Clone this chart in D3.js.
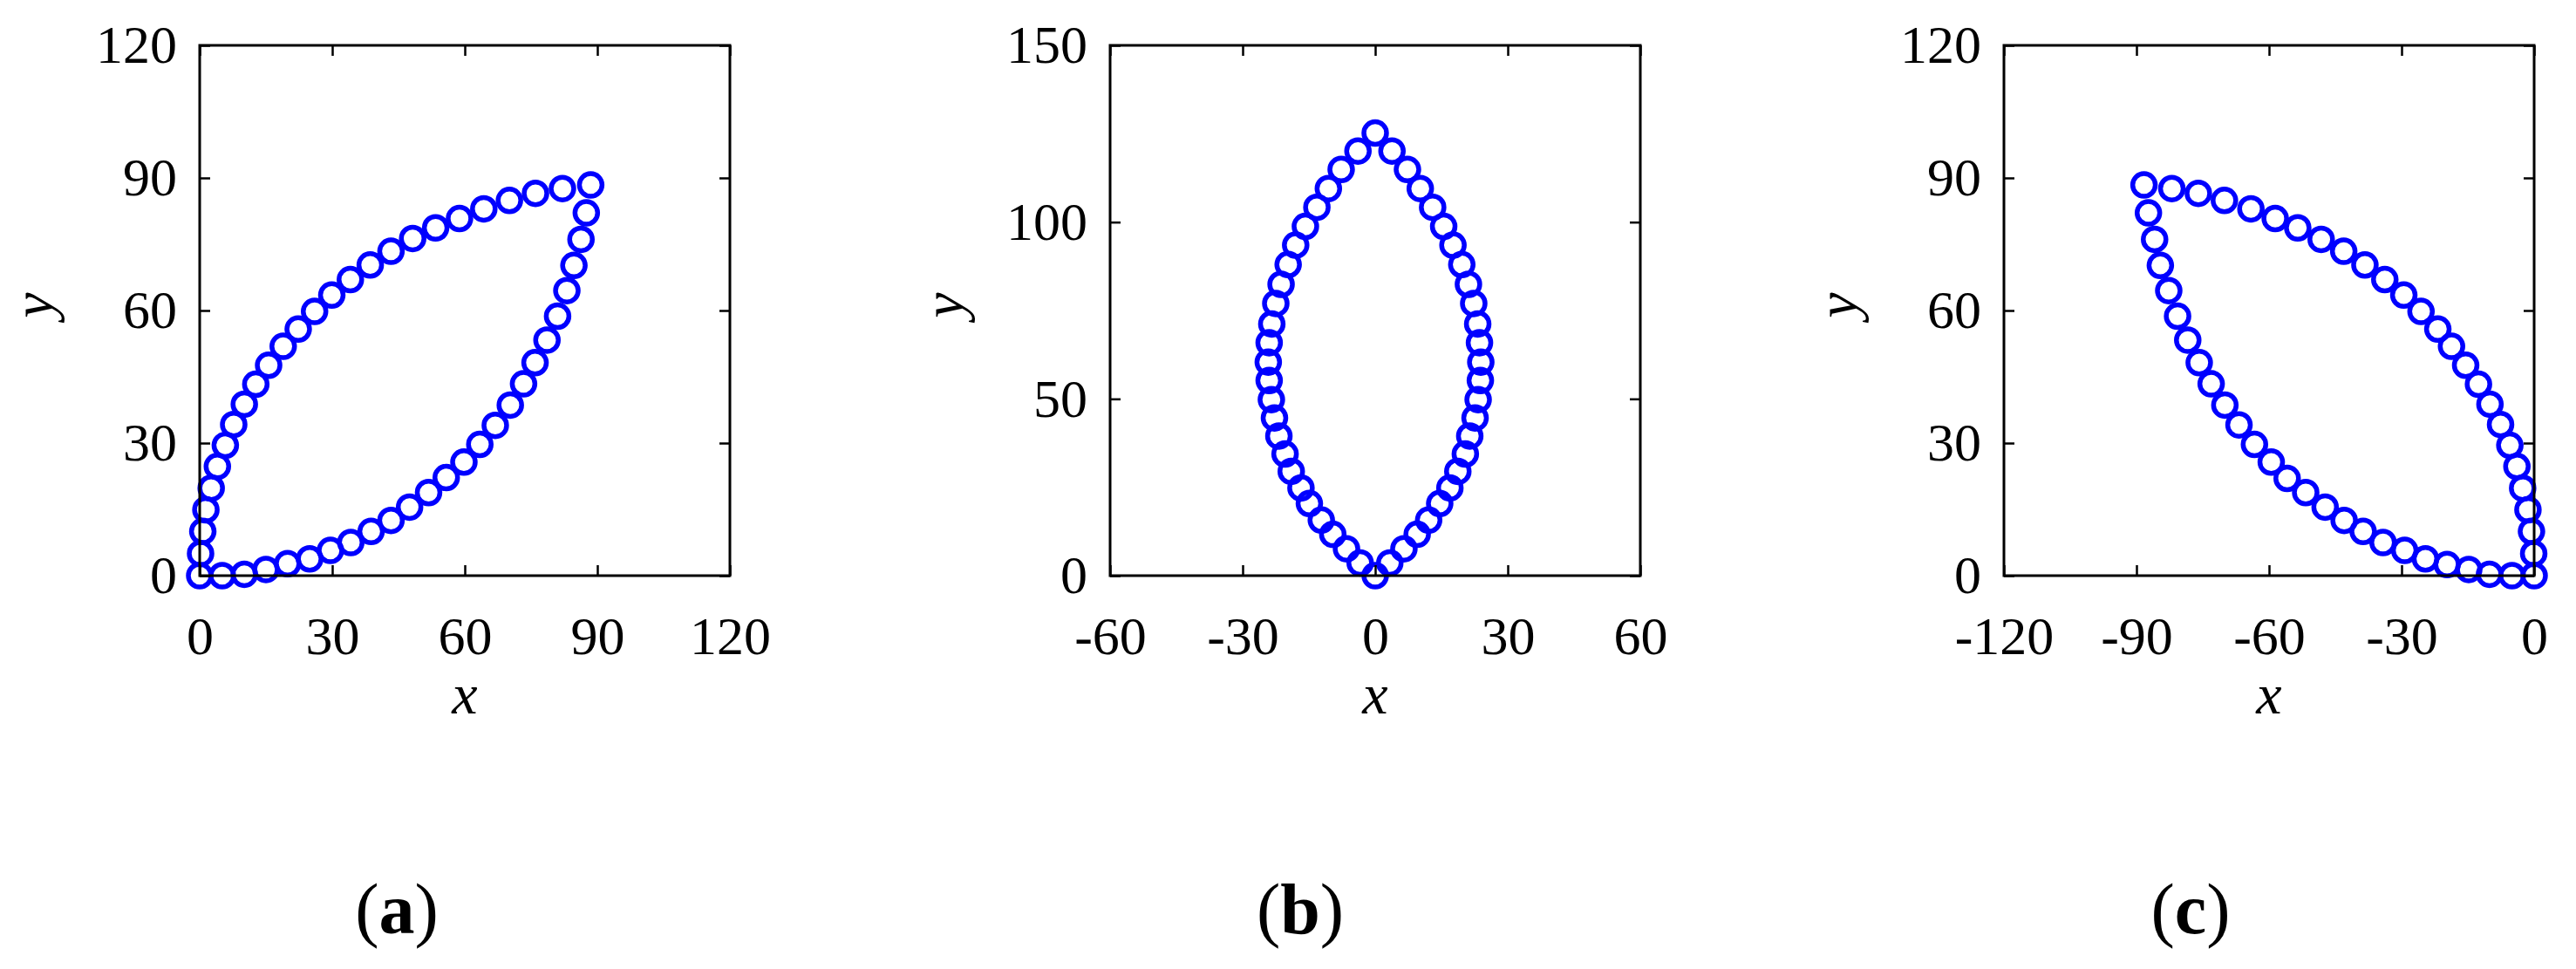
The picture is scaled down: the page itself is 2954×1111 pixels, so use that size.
<!DOCTYPE html>
<html>
<head>
<meta charset="utf-8">
<script src="https://cdn.jsdelivr.net/npm/d3@7/dist/d3.min.js"></script>
<style>
  body { margin: 0; background: #fff; }
</style>
</head>
<body>
<svg id="fig" width="2954" height="1111"></svg>
<script>
// ---- data ----
// panel (a)
var aUpper = [[0,0],[0.2,5.0],[0.7,10.0],[1.4,14.9],[2.6,19.8],[4.0,24.7],[5.8,29.5],[7.7,34.2],
  [10.1,38.8],[12.7,43.3],[15.6,47.6],[18.9,51.9],[22.3,55.8],[26.0,59.8],[29.9,63.5],[34.1,67.0],
  [38.6,70.3],[43.3,73.4],[48.2,76.3],[53.4,78.7],[58.8,80.8],[64.3,83.0],[70.1,84.9],[76.0,86.5],
  [82.1,87.6],[88.5,88.4]];
var aLower = [[5.1,0],[10.1,0.3],[15.0,1.4],[19.9,2.7],[24.9,3.8],[29.6,5.7],[34.2,7.5],[38.8,10.0],
  [43.3,12.5],[47.5,15.5],[51.8,18.8],[55.8,22.2],[59.8,25.7],[63.4,29.7],[66.9,34.0],[70.3,38.6],
  [73.3,43.4],[75.9,48.2],[78.6,53.3],[81.0,58.7],[83.1,64.5],[84.7,70.2],[86.3,76.1],[87.5,82.1]];
var aXTicks = [0,30,60,90,120];
var aYTicks = [0,30,60,90,120];

// panel (b)
var bRight = [[0,0],[3.3,3.6],[6.5,7.6],[9.5,11.7],[12.1,15.7],[14.6,20.4],[16.9,24.8],[18.7,29.5],
  [20.4,34.4],[21.4,39.5],[22.6,44.6],[23.3,49.8],[23.8,55.2],[23.9,60.4],[23.6,65.9],[23.2,71.2],
  [22.3,77.0],[21.1,82.4],[19.6,88.0],[17.6,93.5],[15.5,98.8],[13.0,104.2],[10.2,109.5],[7.3,114.9],
  [3.8,120.1],[0,125.2]];
var bLeft = [[-3.4,3.6],[-6.5,7.6],[-9.6,11.7],[-12.2,15.7],[-14.9,20.4],[-16.8,24.8],[-19.0,29.5],
  [-20.4,34.4],[-21.8,39.5],[-22.8,44.6],[-23.5,49.8],[-24.0,55.2],[-24.2,60.4],[-24.0,65.9],
  [-23.4,71.2],[-22.5,77.0],[-21.3,82.4],[-19.7,88.0],[-18.0,93.5],[-15.8,98.8],[-13.2,104.2],
  [-10.6,109.5],[-7.7,114.9],[-3.9,120.1]];
var bXTicks = [-60,-30,0,30,60];
var bYTicks = [0,50,100,150];

// panel (c)
var cUpper = [[0,0],[-0.1,5.0],[-0.6,10.0],[-1.4,14.9],[-2.6,19.8],[-3.9,24.7],[-5.5,29.5],[-7.6,34.2],
  [-10.0,38.8],[-12.6,43.3],[-15.5,47.6],[-18.7,51.9],[-21.8,55.8],[-25.6,59.8],[-29.5,63.5],[-33.8,67.0],
  [-38.3,70.3],[-43.1,73.4],[-48.2,76.1],[-53.5,78.7],[-58.6,80.8],[-64.1,83.0],[-70.1,84.9],[-76.0,86.5],
  [-82.0,87.6],[-88.3,88.4]];
var cLower = [[-5.0,0],[-10.1,0.3],[-14.8,1.4],[-19.7,2.5],[-24.6,3.8],[-29.3,5.7],[-34.2,7.5],[-38.7,10.0],
  [-43.0,12.5],[-47.3,15.5],[-51.7,18.8],[-55.9,22.0],[-59.5,25.7],[-63.3,29.7],[-66.8,34.1],[-70.0,38.6],
  [-73.1,43.4],[-75.8,48.2],[-78.4,53.3],[-80.7,58.7],[-82.7,64.5],[-84.6,70.2],[-85.9,76.1],[-87.3,82.1]];
var cXTicks = [-120,-90,-60,-30,0];
var cYTicks = [0,30,60,90,120];

var panelTags = ["a","b","c"];

// ---- drawing ----
var svg = d3.select("#fig");
var serif = "'Liberation Serif','Times New Roman',serif";
var plotTop = 52, plotSize = 608;
var plainNum = d => String(d);   // hyphen minus like the original, not U+2212

function drawPanel(left, points, xTicks, yTicks, tag, tagX) {
  var g = svg.append("g").attr("transform", "translate(" + left + "," + plotTop + ")");

  var xScale = d3.scaleLinear().domain(d3.extent(xTicks)).range([0, plotSize]);
  var yScale = d3.scaleLinear().domain(d3.extent(yTicks)).range([plotSize, 0]);

  // markers
  g.append("g").selectAll("circle").data(points).enter().append("circle")
    .attr("cx", d => xScale(d[0]))
    .attr("cy", d => yScale(d[1]))
    .attr("r", 13)
    .attr("fill", "none")
    .attr("stroke", "#0000ff")
    .attr("stroke-width", 5.5);

  // axes, ticks pointing inwards
  var axes = [
    {ax: d3.axisBottom(xScale).tickValues(xTicks).tickFormat(plainNum).tickPadding(46), tr: "translate(0," + plotSize + ")"},
    {ax: d3.axisLeft(yScale).tickValues(yTicks).tickFormat(plainNum).tickPadding(26), tr: "translate(0,0)"},
    {ax: d3.axisTop(xScale).tickValues(xTicks).tickFormat(""), tr: "translate(0,0)"},
    {ax: d3.axisRight(yScale).tickValues(yTicks).tickFormat(""), tr: "translate(" + plotSize + ",0)"}
  ];
  axes.forEach(function(a) {
    var ag = g.append("g").attr("transform", a.tr)
      .call(a.ax.tickSizeInner(-12).tickSizeOuter(0));
    ag.select(".domain").remove();
    ag.selectAll("line").attr("stroke", "#000").attr("stroke-width", 2.5);
    ag.selectAll("text").attr("font-family", serif).attr("font-size", 62).attr("fill", "#000");
  });

  // frame
  g.append("rect").attr("x", 0).attr("y", 0)
    .attr("width", plotSize).attr("height", plotSize)
    .attr("fill", "none").attr("stroke", "#000").attr("stroke-width", 3);

  // axis titles
  g.append("text").attr("x", plotSize / 2).attr("y", 766)
    .attr("text-anchor", "middle").attr("font-family", serif)
    .attr("font-style", "italic").attr("font-size", 66).text("x");
  g.append("text")
    .attr("transform", "translate(-169," + (plotSize / 2 - 6) + ") rotate(-90)")
    .attr("text-anchor", "middle").attr("font-family", serif)
    .attr("font-style", "italic").attr("font-size", 66).text("y");

  // panel tag: plain parentheses, bold letter
  var t = svg.append("text").attr("x", tagX).attr("y", 1070)
    .attr("text-anchor", "middle").attr("font-family", serif).attr("font-size", 82);
  t.append("tspan").text("(");
  t.append("tspan").attr("font-weight", "bold").text(tag);
  t.append("tspan").text(")");
}

drawPanel(229, aUpper.concat(aLower), aXTicks, aYTicks, panelTags[0], 455);
drawPanel(1273, bRight.concat(bLeft), bXTicks, bYTicks, panelTags[1], 1491);
drawPanel(2298, cUpper.concat(cLower), cXTicks, cYTicks, panelTags[2], 2512);
</script>
</body>
</html>
